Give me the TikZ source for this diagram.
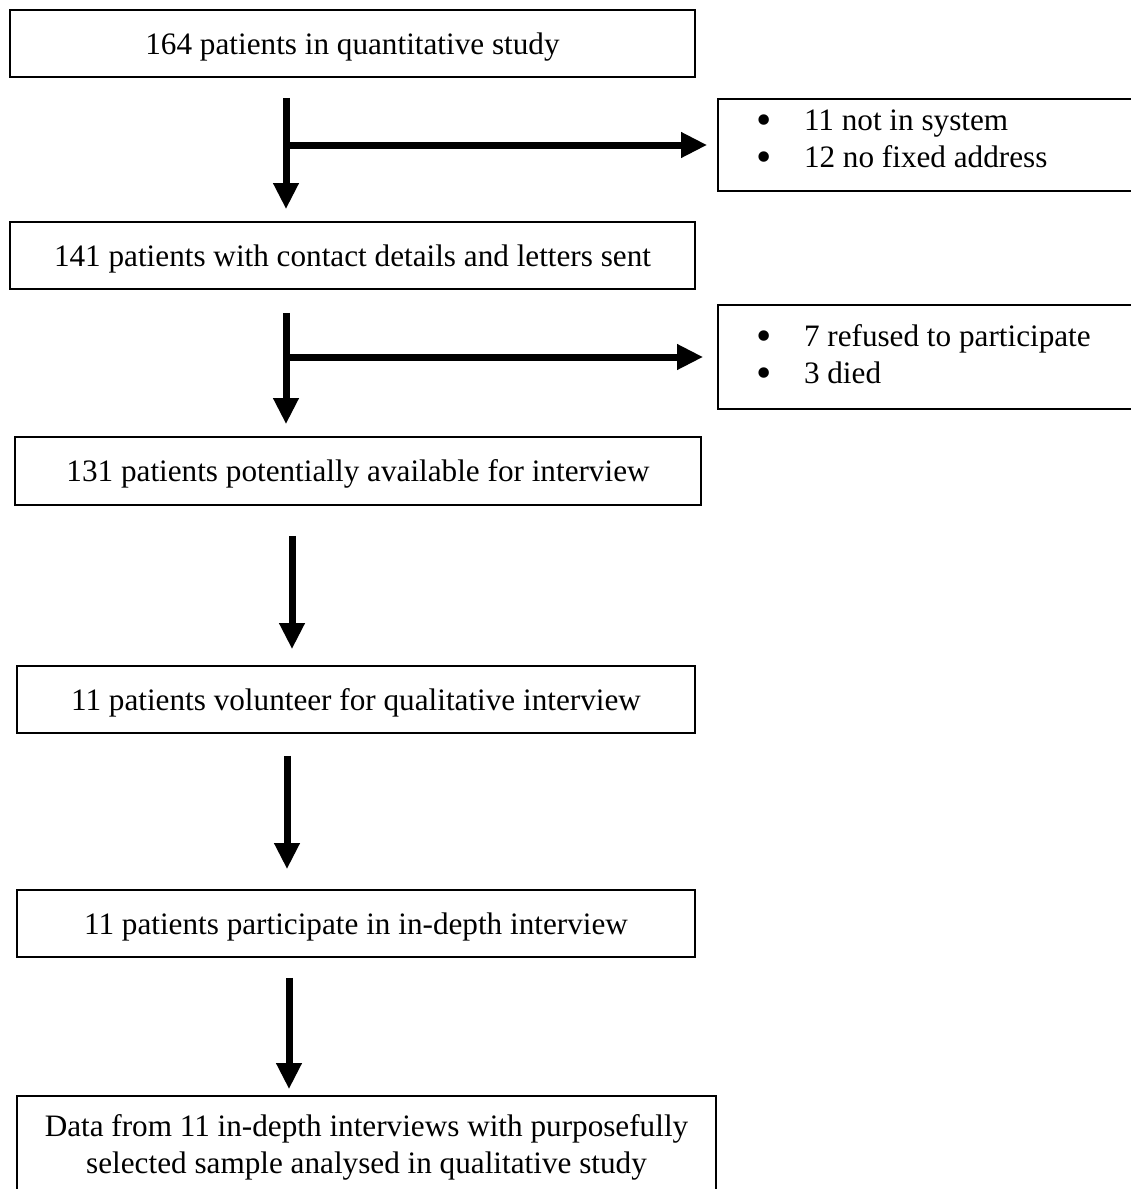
\documentclass[tikz,border=0pt]{standalone}
\usepackage{fontspec}
\setmainfont{Liberation Serif}
\usetikzlibrary{arrows.meta}
\begin{document}
\begin{tikzpicture}[x=1pt,y=-1pt,
  box/.style={draw,line width=1.6pt,inner sep=0pt,font=\fontsize{31.2}{37}\selectfont},
  mainbox/.style={box,text depth=0pt},
  sidebox/.style={box,align=flush left,inner xsep=38pt,inner ysep=0pt},
  arr/.style={line width=7pt,-{Triangle[width=24pt,length=26pt]}}]
\useasboundingbox (0,0) rectangle (1131,1189);
\newcommand{\bul}{\makebox[48pt][l]{\smash{\raisebox{-3.5pt}{\scalebox{1.4}{\textbullet}}}}}
% main boxes
\node[mainbox,minimum width=685pt,minimum height=67pt] (b1) at (352.5,43.5) {164 patients in quantitative study};
\node[mainbox,minimum width=685pt,minimum height=67pt] (b2) at (352.5,255.5) {141 patients with contact details and letters sent};
\node[mainbox,minimum width=686pt,minimum height=68pt] (b3) at (358,471) {131 patients potentially available for interview};
\node[mainbox,minimum width=678pt,minimum height=67pt] (b4) at (356,699.5) {11 patients volunteer for qualitative interview};
\node[mainbox,minimum width=678pt,minimum height=67pt] (b5) at (356,923.5) {11 patients participate in in-depth interview};
\node[mainbox,align=center,minimum width=699pt,minimum height=96pt] (b6) at (366.5,1144) {Data from 11 in-depth interviews with purposefully\\selected sample analysed in qualitative study};
% side boxes
\node[sidebox,text width=346pt,minimum height=92pt] (s1) at (929,145) {\bul 11 not in system\\\bul 12 no fixed address\rule[-12pt]{0pt}{0pt}};
\node[sidebox,text width=346pt,minimum height=104pt] (s2) at (929,357) {\bul 7 refused to participate\\\bul 3 died\rule[-5pt]{0pt}{0pt}};
% arrow columns
\coordinate (c1) at (286,0);
\coordinate (c2) at (286,0);
\coordinate (c3) at (292,0);
\coordinate (c4) at (287,0);
\coordinate (c5) at (289,0);
% vertical arrows
\draw[arr,shorten <=20pt,shorten >=12pt] (b1.south -| c1) -- (b2.north -| c1);
\draw[arr,shorten <=23pt,shorten >=12pt] (b2.south -| c2) -- (b3.north -| c2);
\draw[arr,shorten <=30pt,shorten >=16pt] (b3.south -| c3) -- (b4.north -| c3);
\draw[arr,shorten <=22pt,shorten >=20pt] (b4.south -| c4) -- (b5.north -| c4);
\draw[arr,shorten <=20pt,shorten >=6pt] (b5.south -| c5) -- (b6.north -| c5);
% branch arrows
\draw[arr,shorten >=10pt] (s1.west -| c1) -- (s1.west);
\draw[arr,shorten >=14pt] (s2.west -| c2) -- (s2.west);
\end{tikzpicture}
\end{document}
